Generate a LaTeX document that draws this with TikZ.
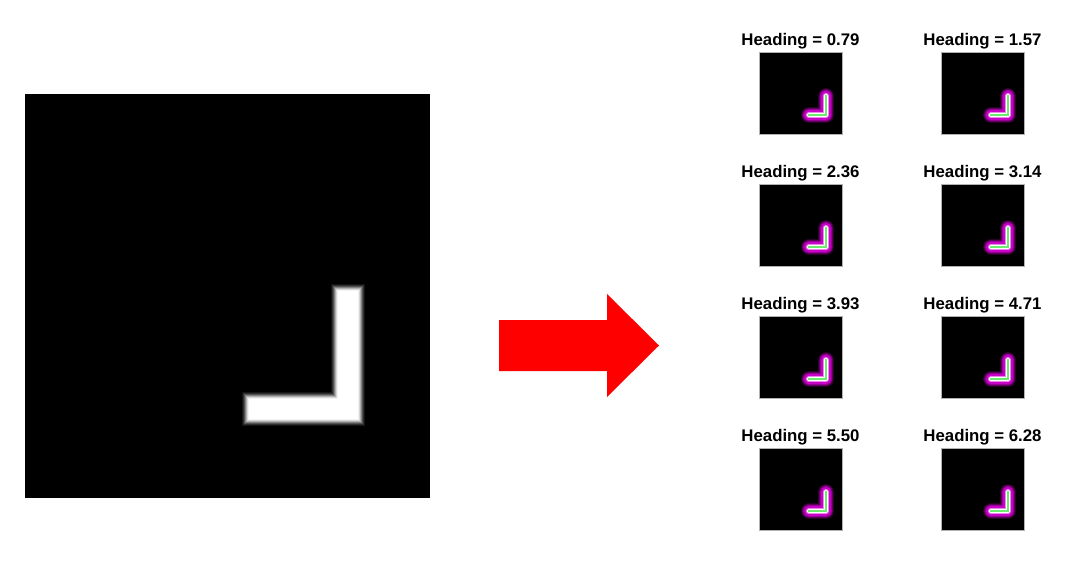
\documentclass[tikz,border=0pt]{standalone}
\usepackage{fontspec}
\setmainfont{Liberation Sans}
\definecolor{glowmag}{RGB}{200,0,200}
\definecolor{corelime}{RGB}{110,235,110}
\begin{document}
\begin{tikzpicture}[x=1pt,y=-1pt]
\tikzset{
  heading/.style={font=\bfseries\fontsize{16.8}{18}\selectfont, inner sep=0pt},
  ell/.style={line cap=rect, line join=miter}
}
\useasboundingbox (0,0) rectangle (1065,569);
% input image
\fill[black] (25,94) rectangle (430,498);
\foreach \w/\g in {34/8,32/18,30/32,28/50,26/68,24/84,22/95,20/100}
  \draw[ell, white!\g!black, line width=\w] (347.5,301) -- (347.5,409) -- (259,409);
% arrow
\fill[red] (499,320) -- (607,320) -- (607,294) -- (659,345.5) -- (607,397) -- (607,371) -- (499,371) -- cycle;
% heading panels
\foreach \h [count=\i from 0] in {0.79,1.57,2.36,3.14,3.93,4.71,5.50,6.28} {
  \pgfmathsetmacro{\px}{759+182*mod(\i,2)}
  \pgfmathsetmacro{\py}{52+132*floor(\i/2)}
  \node[heading] (title\i) at (\px+41.5,\py-11) {Heading = \h};
  \fill[black] (\px,\py) rectangle (\px+83,\py+82);
  \draw[gray!60, line width=0.5] (\px,\py) rectangle (\px+83,\py+82);
  \begin{scope}[shift={(\px,\py)}, line join=round, line cap=round]
    \foreach \w/\g in {16/20,14/45,12/75,10/100}
      \draw[glowmag!\g!black, line width=\w] (67,44) -- (67,63) -- (50,63);
    \draw[glowmag!45!white, line width=6] (67,44) -- (67,63) -- (50,63);
    \draw[white, line width=4] (67,44) -- (67,63) -- (50,63);
    \draw[ell, corelime, line width=2] (67,44) -- (67,63) -- (50,63);
  \end{scope}
}
\end{tikzpicture}
\end{document}
